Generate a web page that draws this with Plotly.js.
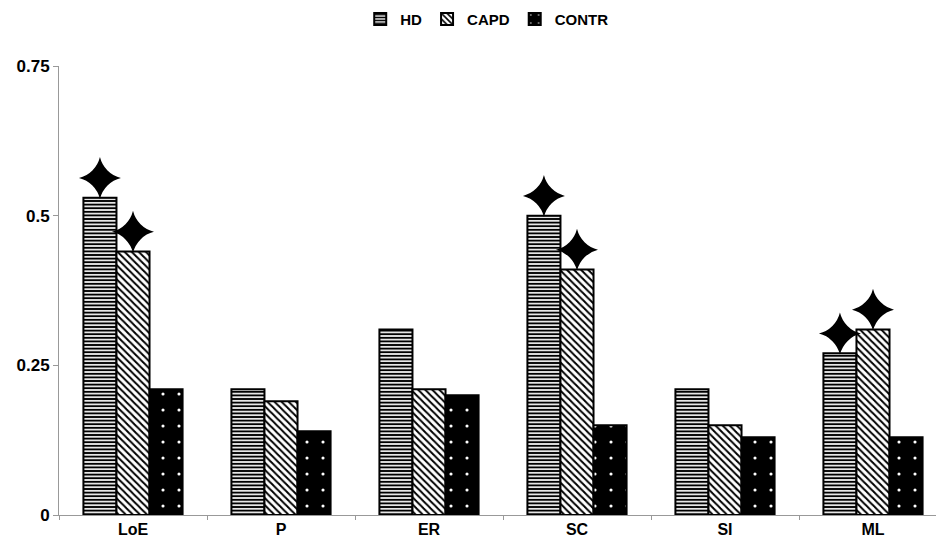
<!DOCTYPE html>
<html>
<head>
<meta charset="utf-8">
<script src="https://cdn.plot.ly/plotly-3.0.1.min.js"></script>
<style>html,body{margin:0;padding:0;background:#fff;}</style>
</head>
<body>
<div id="chart" style="width:936px;height:545px;"></div>
<script>
const categories = ['LoE', 'P', 'ER', 'SC', 'SI', 'ML'];
const hdValues = [0.53, 0.21, 0.31, 0.50, 0.21, 0.27];
const capdValues = [0.44, 0.19, 0.21, 0.41, 0.15, 0.31];
const contrValues = [0.21, 0.14, 0.20, 0.15, 0.13, 0.13];
// significance markers (1 = star shown above the bar)
const hdSignificant = [1, 0, 0, 1, 0, 1];
const capdSignificant = [1, 0, 0, 1, 0, 1];
const contrSignificant = [0, 0, 0, 0, 0, 0];
const yTicks = [0, 0.25, 0.5, 0.75];
const yTickLabels = ['0', '0.25', '0.5', '0.75'];

const FONT = 'Liberation Sans, Arial, sans-serif';
const starLift = 0.033;

function starY(values, sig) {
  return values.map((v, i) => sig[i] ? v + starLift : null);
}

const lineStyle = {color: '#000', width: 2};
const starMarker = {symbol: 'star-diamond', size: 30, color: '#000'};

const traces = [
  {type: 'bar', name: 'HD', x: categories, y: hdValues, offsetgroup: 'a',
   marker: {color: '#fff', line: lineStyle,
     pattern: {shape: '-', fgcolor: '#000', bgcolor: '#e6e6e6', size: 3.6, solidity: 0.5}},
   hoverinfo: 'skip'},
  {type: 'bar', name: 'CAPD', x: categories, y: capdValues, offsetgroup: 'b',
   marker: {color: '#fff', line: lineStyle,
     pattern: {shape: '\\', fgcolor: '#000', bgcolor: '#fff', size: 5, solidity: 0.4}},
   hoverinfo: 'skip'},
  {type: 'bar', name: 'CONTR', x: categories, y: contrValues, offsetgroup: 'c',
   marker: {color: '#000', line: lineStyle,
     pattern: {shape: '.', fgcolor: '#fff', bgcolor: '#000', size: 16, solidity: 0.03}},
   hoverinfo: 'skip'},
  {type: 'scatter', mode: 'markers', x: categories, y: starY(hdValues, hdSignificant), offsetgroup: 'a',
   marker: starMarker, showlegend: false, hoverinfo: 'skip', cliponaxis: false},
  {type: 'scatter', mode: 'markers', x: categories, y: starY(capdValues, capdSignificant), offsetgroup: 'b',
   marker: starMarker, showlegend: false, hoverinfo: 'skip', cliponaxis: false},
  {type: 'scatter', mode: 'markers', x: categories, y: starY(contrValues, contrSignificant), offsetgroup: 'c',
   marker: starMarker, showlegend: false, hoverinfo: 'skip', cliponaxis: false}
];

const layout = {
  width: 936, height: 545,
  margin: {l: 59, r: 0, t: 66, b: 30, pad: 0},
  paper_bgcolor: '#fff', plot_bgcolor: '#fff',
  barmode: 'group', bargap: 0.33, bargroupgap: 0,
  scattermode: 'group', scattergap: 0.33,
  font: {family: FONT, color: '#000', size: 16},
  showlegend: true,
  legend: {orientation: 'h', xref: 'container', yref: 'container', x: 0.52, xanchor: 'center',
    y: 0.995, yanchor: 'top', font: {family: FONT, size: 15, weight: 'bold', color: '#000'},
    itemwidth: 30, tracegroupgap: 0, traceorder: 'normal'},
  xaxis: {type: 'category', range: [-0.5, 5.4257], showline: true, linecolor: '#999', linewidth: 1,
    ticks: 'outside', tickson: 'boundaries', ticklen: 4, tickcolor: '#999', showgrid: false, zeroline: false,
    tickfont: {family: FONT, size: 16, weight: 'bold', color: '#000'}, fixedrange: true},
  yaxis: {range: [0, 0.75], tickvals: yTicks, ticktext: yTickLabels, showline: true, linecolor: '#999', linewidth: 1,
    ticks: 'outside', ticklen: 5, tickcolor: '#999', showgrid: false, zeroline: false,
    tickfont: {family: FONT, size: 17, weight: 'bold', color: '#000'}, fixedrange: true}
};

Plotly.newPlot('chart', traces, layout, {staticPlot: true, displayModeBar: false});
</script>
</body>
</html>
